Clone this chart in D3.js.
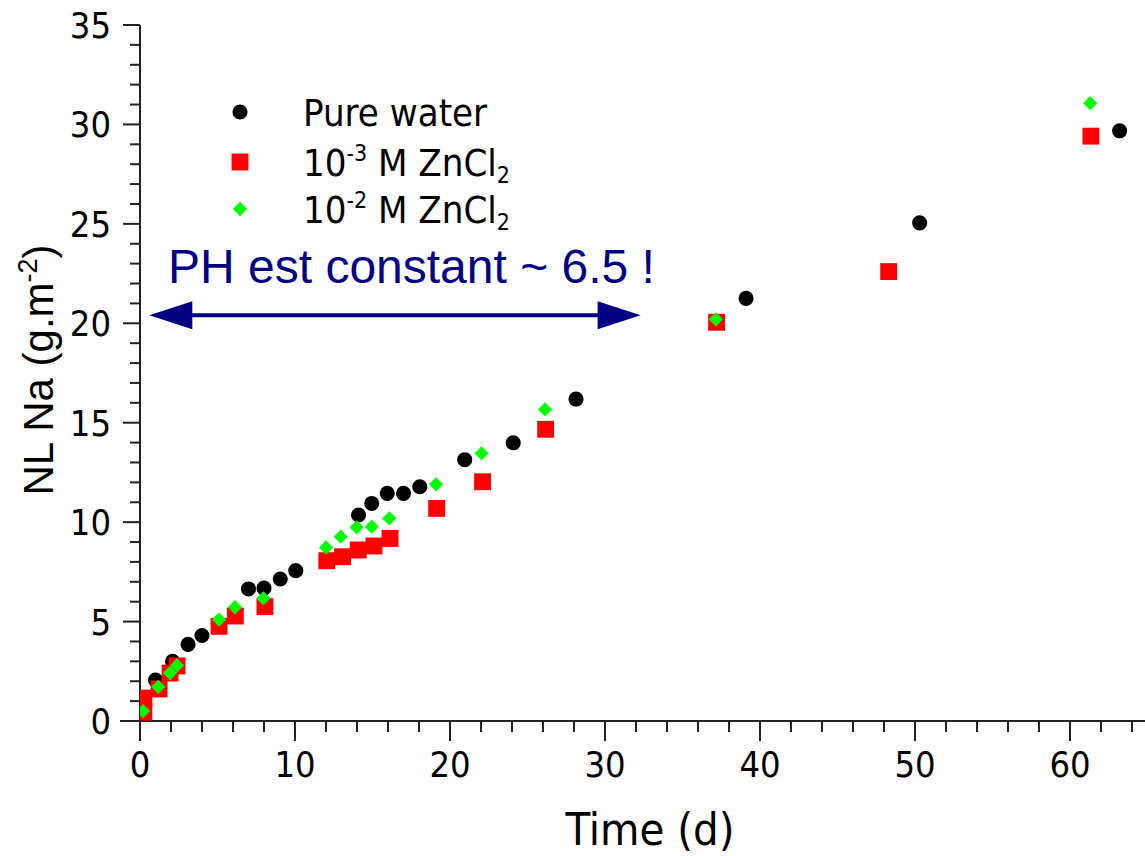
<!DOCTYPE html>
<html>
<head>
<meta charset="utf-8">
<script src="https://cdn.jsdelivr.net/npm/d3@7"></script>
<style>
  html, body { margin: 0; padding: 0; background: #fff; overflow: hidden; }
  .tahoma { font-family: 'DejaVu Sans Condensed', 'DejaVu Sans', sans-serif; font-stretch: condensed; }
</style>
</head>
<body>
<div id="chart"></div>
<script>
// Pure water
const waterT = [1.0, 2.1, 3.1, 4.0, 7.0, 8.0, 9.05, 10.05, 14.1, 14.95, 15.95, 17.0, 18.05, 20.95, 24.08, 28.13, 39.1, 50.3, 63.2]
const waterNL = [2.06, 3.0, 3.85, 4.3, 6.64, 6.68, 7.14, 7.56, 10.36, 10.94, 11.45, 11.45, 11.78, 13.14, 13.99, 16.19, 21.25, 25.05, 29.68]

// 10^-3 M ZnCl2
const zn3T = [0.25, 0.25, 1.23, 1.94, 2.39, 5.1, 6.15, 8.06, 12.05, 13.07, 14.08, 15.1, 16.13, 19.14, 22.1, 26.17, 37.2, 48.3, 61.35]
const zn3NL = [0.45, 1.15, 1.61, 2.41, 2.77, 4.76, 5.28, 5.75, 8.06, 8.26, 8.6, 8.8, 9.18, 10.69, 12.03, 14.67, 20.05, 22.6, 29.41]

// 10^-2 M ZnCl2
const zn2T = [0.2, 1.18, 1.94, 2.39, 5.1, 6.13, 7.96, 12.0, 12.95, 13.98, 14.95, 16.08, 19.1, 22.04, 26.13, 37.15, 61.3]
const zn2NL = [0.5, 1.72, 2.41, 2.8, 5.1, 5.72, 6.17, 8.73, 9.27, 9.74, 9.77, 10.19, 11.9, 13.46, 15.67, 20.2, 31.07]

const xTicks = [0, 10, 20, 30, 40, 50, 60]
const yTicks = [0, 5, 10, 15, 20, 25, 30, 35]
const phRange = [0.6, 32.3]
const phLevel = 20.4

const width = 1145
const height = 856
const navy = '#000080'
const axisColor = '#222'

const svg = d3
  .select('#chart')
  .append('svg')
  .attr('width', width)
  .attr('height', height)
  .style('display', 'block')

const xScale = d3.scaleLinear().domain([0, 65]).range([140, 140 + 65 * 15.5])
const yScale = d3.scaleLinear().domain([0, 35]).range([721, 25])

svg
  .append('defs')
  .append('clipPath')
  .attr('id', 'plot')
  .append('rect')
  .attr('x', xScale(0))
  .attr('y', 0)
  .attr('width', width - xScale(0))
  .attr('height', yScale(0))

// -- Axes
const xAxis = svg.append('g').attr('transform', `translate(0,${yScale(0)})`)
xAxis
  .append('line')
  .attr('x1', xScale(0) - 20)
  .attr('x2', width)
  .attr('stroke', axisColor)
  .attr('stroke-width', 2)
d3.range(0, 65, 2).forEach((t) => {
  const major = t % 10 === 0
  xAxis
    .append('line')
    .attr('x1', xScale(t))
    .attr('x2', xScale(t))
    .attr('y1', 0)
    .attr('y2', major ? 20 : 11)
    .attr('stroke', axisColor)
    .attr('stroke-width', 2)
})
xTicks.forEach((t) => {
  xAxis
    .append('text')
    .attr('class', 'tahoma')
    .attr('x', xScale(t))
    .attr('y', 56)
    .attr('text-anchor', 'middle')
    .attr('font-size', 36)
    .text(t)
})

const yAxis = svg.append('g').attr('transform', `translate(${xScale(0)},0)`)
yAxis
  .append('line')
  .attr('y1', yScale(35))
  .attr('y2', yScale(0) + 20)
  .attr('stroke', axisColor)
  .attr('stroke-width', 2)
d3.range(0, 36, 1).forEach((v) => {
  const major = v % 5 === 0
  yAxis
    .append('line')
    .attr('x1', major ? -17 : -10)
    .attr('x2', 0)
    .attr('y1', yScale(v))
    .attr('y2', yScale(v))
    .attr('stroke', axisColor)
    .attr('stroke-width', 2)
})
yTicks.forEach((v) => {
  yAxis
    .append('text')
    .attr('class', 'tahoma')
    .attr('x', -29)
    .attr('y', yScale(v))
    .attr('dy', '0.36em')
    .attr('text-anchor', 'end')
    .attr('font-size', 36)
    .text(v)
})

// -- Axis titles
svg
  .append('text')
  .attr('class', 'tahoma')
  .attr('x', 650)
  .attr('y', 845)
  .attr('text-anchor', 'middle')
  .attr('font-size', 45)
  .text('Time (d)')

const yTitle = svg
  .append('text')
  .attr('transform', 'translate(53,370) rotate(-90)')
  .attr('text-anchor', 'middle')
  .attr('font-family', 'Liberation Sans, Arial, sans-serif')
  .attr('font-size', 42)
yTitle.append('tspan').text('NL Na (g.m')
yTitle.append('tspan').attr('font-size', 27).attr('dy', -16).text('-2')
yTitle.append('tspan').attr('dy', 16).text(')')

// -- Data
const marks = svg.append('g').attr('clip-path', 'url(#plot)')
const circle = d3.symbol(d3.symbolCircle, 180)
const square = d3.symbol(d3.symbolSquare, 285)
const diamond = d3.symbol(d3.symbolDiamond2, 130)

const drawSeries = (ts, vs, shape, color) => {
  marks
    .selectAll(null)
    .data(d3.zip(ts, vs))
    .join('path')
    .attr('transform', ([t, v]) => `translate(${xScale(t)},${yScale(v)})`)
    .attr('d', shape)
    .attr('fill', color)
}
drawSeries(waterT, waterNL, circle, '#000')
drawSeries(zn3T, zn3NL, square, '#ff0000')
drawSeries(zn2T, zn2NL, diamond, '#00ff00')

// -- Legend
const legendItems = [
  { shape: circle, color: '#000', text: ['Pure water'] },
  { shape: square, color: '#ff0000', text: ['10', '-3', ' M ZnCl', '2'] },
  { shape: diamond, color: '#00ff00', text: ['10', '-2', ' M ZnCl', '2'] },
]
legendItems.forEach((item, i) => {
  const cy = [112, 162, 209][i]
  svg
    .append('path')
    .attr('transform', `translate(240,${cy})`)
    .attr('d', item.shape)
    .attr('fill', item.color)
  const label = svg
    .append('text')
    .attr('class', 'tahoma')
    .attr('x', 303)
    .attr('y', cy + 14)
    .attr('font-size', 38)
  if (item.text.length === 1) {
    label.text(item.text[0])
  } else {
    label.append('tspan').text(item.text[0])
    label.append('tspan').attr('font-size', 23).attr('dy', -15).text(item.text[1])
    label.append('tspan').attr('dy', 15).text(item.text[2])
    label.append('tspan').attr('font-size', 23).attr('dy', 7).text(item.text[3])
  }
})

// -- pH annotation
svg
  .append('text')
  .attr('x', 168)
  .attr('y', 283)
  .attr('font-family', 'Liberation Sans, Arial, sans-serif')
  .attr('font-size', 48)
  .attr('fill', navy)
  .text('PH est constant ~ 6.5 !')

const ax0 = xScale(phRange[0])
const ax1 = xScale(phRange[1])
const ay = yScale(phLevel)
svg
  .append('line')
  .attr('x1', ax0 + 30)
  .attr('x2', ax1 - 30)
  .attr('y1', ay)
  .attr('y2', ay)
  .attr('stroke', navy)
  .attr('stroke-width', 4)
svg
  .append('path')
  .attr('d', `M${ax0},${ay} L${ax0 + 43},${ay - 14} L${ax0 + 43},${ay + 14} Z`)
  .attr('fill', navy)
svg
  .append('path')
  .attr('d', `M${ax1},${ay} L${ax1 - 43},${ay - 14} L${ax1 - 43},${ay + 14} Z`)
  .attr('fill', navy)
</script>
</body>
</html>
